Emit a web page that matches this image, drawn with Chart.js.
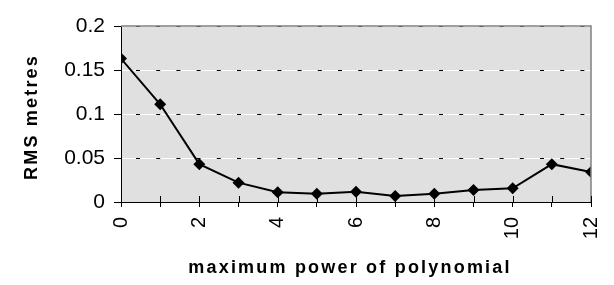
<!DOCTYPE html>
<html>
<head>
<meta charset="utf-8">
<script src="https://cdn.jsdelivr.net/npm/chart.js@4.4.1/dist/chart.umd.min.js"></script>
<style>
  html, body { margin: 0; padding: 0; background: #fff; }
  #wrap { width: 614px; height: 285px; }
</style>
</head>
<body>
<div id="wrap"><canvas id="chart" width="614" height="285"></canvas></div>
<script>
// data
const powers = [0, 1, 2, 3, 4, 5, 6, 7, 8, 9, 10, 11, 12];
const rmsMetres = [0.163, 0.111, 0.043, 0.022, 0.011, 0.0094, 0.0117, 0.0068, 0.0094, 0.0136, 0.0155, 0.043, 0.034];
const yTicks = [0, 0.05, 0.1, 0.15, 0.2];
const xTitle = 'maximum power of polynomial';
const yTitle = 'RMS metres';

const FONT = "'Liberation Sans', Arial, sans-serif";
Chart.defaults.font.family = FONT;
Chart.defaults.font.size = 20;
Chart.defaults.color = '#000';

// grey plot area, white lines under the dashed grid, crossing x ticks, axis titles
const excelLook = {
    id: 'excelLook',
    beforeDraw(chart) {
        const { ctx, chartArea: a, scales } = chart;
        ctx.save();
        ctx.fillStyle = '#e0e0e0';
        ctx.fillRect(a.left, a.top, a.right - a.left, a.bottom - a.top);
        ctx.strokeStyle = '#ffffff';
        ctx.lineWidth = 1;
        yTicks.forEach(v => {
            if (v === 0) return;
            const y = Math.round(scales.y.getPixelForValue(v)) + 0.5;
            ctx.beginPath();
            ctx.moveTo(a.left, y);
            ctx.lineTo(a.right, y);
            ctx.stroke();
        });
        ctx.restore();
    },
    afterDatasetsDraw(chart) {
        const { ctx, chartArea: a, scales } = chart;
        ctx.save();
        // grey frame on top and right
        ctx.strokeStyle = '#808080';
        ctx.lineWidth = 1.5;
        ctx.beginPath();
        ctx.moveTo(a.left, a.top);
        ctx.lineTo(a.right, a.top);
        ctx.lineTo(a.right, a.bottom);
        ctx.stroke();
        // x ticks cross the axis
        ctx.strokeStyle = '#000';
        ctx.lineWidth = 1;
        powers.forEach(p => {
            const x = Math.round(scales.x.getPixelForValue(p)) + 0.5;
            ctx.beginPath();
            ctx.moveTo(x, a.bottom - 6);
            ctx.lineTo(x, a.bottom);
            ctx.stroke();
        });
        ctx.restore();
    },
    afterDraw(chart) {
        const { ctx, chartArea: a } = chart;
        ctx.save();
        ctx.fillStyle = '#000';
        ctx.font = 'bold 18px ' + FONT;
        ctx.letterSpacing = '2.2px';
        ctx.textAlign = 'center';
        ctx.textBaseline = 'middle';
        ctx.fillText(xTitle, (a.left + a.right) / 2 - 6, 268);
        ctx.translate(32, (a.top + a.bottom) / 2 + 3);
        ctx.rotate(-Math.PI / 2);
        ctx.fillText(yTitle, 0, 0);
        ctx.restore();
    }
};

new Chart(document.getElementById('chart'), {
    type: 'line',
    data: {
        datasets: [{
            data: powers.map((p, i) => ({ x: p, y: rmsMetres[i] })),
            borderColor: '#000',
            borderWidth: 2,
            backgroundColor: '#000',
            pointStyle: 'rectRot',
            pointRadius: 6,
            pointBorderWidth: 0,
            tension: 0
        }]
    },
    options: {
        responsive: false,
        animation: false,
        layout: { padding: { top: 26, right: 23, left: 0, bottom: 0 } },
        plugins: { legend: { display: false }, tooltip: { enabled: false } },
        scales: {
            x: {
                type: 'linear',
                min: 0,
                max: 12,
                afterFit: s => {
                    s.height = 83;
                    s.paddingLeft = 0;
                    s.paddingRight = 0;
                },
                afterBuildTicks: s => { s.ticks = powers.map(p => ({ value: p })); },
                grid: { drawOnChartArea: false, color: '#000', tickLength: 5 },
                border: { color: '#000', width: 1 },
                ticks: {
                    autoSkip: false,
                    maxRotation: 90,
                    minRotation: 90,
                    padding: 10,
                    color: '#000',
                    font: { size: 20 },
                    callback: v => (v % 2 === 0 ? String(v) : '')
                }
            },
            y: {
                min: 0,
                max: 0.2,
                afterFit: s => {
                    s.width = 121;
                    s.paddingTop = 0;
                    s.paddingBottom = 0;
                },
                afterBuildTicks: s => { s.ticks = yTicks.map(v => ({ value: v })); },
                grid: {
                    color: ctx => (ctx.tick && ctx.tick.value === 0 ? 'rgba(0,0,0,0)' : '#000'),
                    tickColor: '#000',
                    tickLength: 7,
                    tickBorderDash: []
                },
                border: { color: '#000', width: 1, dash: [4, 16.2], dashOffset: 6.2 },
                ticks: {
                    padding: 9,
                    color: '#000',
                    font: { size: 21 },
                    callback: v => String(v)
                }
            }
        }
    },
    plugins: [excelLook]
});
</script>
</body>
</html>
